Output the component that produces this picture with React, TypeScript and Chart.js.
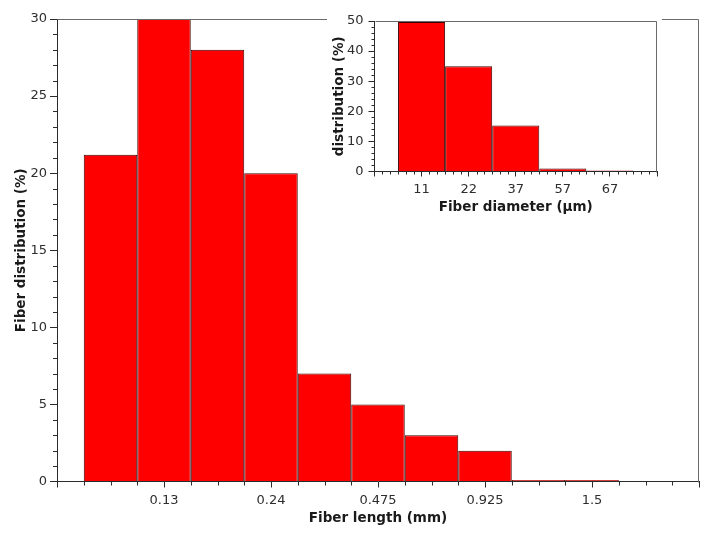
import React, { useEffect, useRef } from 'react';
import { Chart, registerables } from 'chart.js';

Chart.register(...registerables);

// ---- Main chart data (fiber length histogram) ----
const lengthPositions = [1, 2, 3, 4, 5, 6, 7, 8, 9, 10];
const lengthLabels = ['', '0.13', '', '0.24', '', '0.475', '', '0.925', '', '1.5'];
const lengthValues = [21.2, 30, 28, 20, 7, 5, 3, 2, 0.1, 0.1];
const lengthAxisMin = 0;
const lengthAxisMax = 12;
const lengthTickStep = 0.5;
const lengthDistMax = 30;

// ---- Inset chart data (fiber diameter histogram) ----
const diameterPositions = [1, 2, 3, 4, 5];
const diameterLabels = ['11', '22', '37', '57', '67'];
const diameterValues = [49.7, 35, 15.3, 1.0, 0.3];
const diameterAxisMin = 0;
const diameterAxisMax = 6;
const diameterTickStep = 1 / 6;
const diameterDistMax = 50;

const FONT = 'DejaVu Sans';
const AXIS = '#2b2b2b';
const FRAME = '#6a6a6a';
const TICK_TEXT = '#2e2e2e';
const TITLE_TEXT = '#1a1a1a';
const BAR_FILL = '#ff0000';
const BAR_EDGE = '#3c0000';

const near = (a: number, b: number) => Math.abs(a - b) < 1e-6;

function stepValues(min: number, max: number, step: number) {
  const n = Math.round((max - min) / step);
  return Array.from({ length: n + 1 }, (_, i) => min + i * step);
}

type AxisDecor = { id: string; minorLength: number; isMajor: (v: number) => boolean };

function makeDecorPlugin(axes: AxisDecor[]) {
  return {
    id: 'decor',
    afterDraw(chart: any) {
      const ctx = chart.ctx;
      const area = chart.chartArea;
      ctx.save();
      ctx.lineWidth = 1;
      // frame (top + right edges of the plot box)
      ctx.strokeStyle = FRAME;
      const l = Math.round(area.left) + 0.5;
      const r = Math.round(area.right) - 0.5;
      const t = Math.round(area.top) + 0.5;
      const b = Math.round(area.bottom) + 0.5;
      ctx.beginPath();
      ctx.moveTo(l, t);
      ctx.lineTo(r, t);
      ctx.lineTo(r, b);
      ctx.stroke();
      // minor tick marks
      ctx.strokeStyle = AXIS;
      for (const ax of axes) {
        const scale = chart.scales[ax.id];
        if (!scale) continue;
        ctx.beginPath();
        for (const tick of scale.ticks) {
          if (ax.isMajor(tick.value)) continue;
          const p = Math.round(scale.getPixelForValue(tick.value)) + 0.5;
          if (scale.isHorizontal()) {
            ctx.moveTo(p, scale.top);
            ctx.lineTo(p, scale.top + ax.minorLength);
          } else {
            ctx.moveTo(scale.right, p);
            ctx.lineTo(scale.right - ax.minorLength, p);
          }
        }
        ctx.stroke();
      }
      ctx.restore();
    },
  };
}

function axisOptions(opts: {
  min: number;
  max: number;
  step: number;
  isMajor: (v: number) => boolean;
  label: (v: number) => string;
  majorLength: number;
  padding: number;
  title: string;
  titlePadding: any;
  titleSize: number;
  fit: (s: any) => void;
}) {
  return {
    type: 'linear',
    min: opts.min,
    max: opts.max,
    offset: false,
    afterBuildTicks: (scale: any) => {
      scale.ticks = stepValues(opts.min, opts.max, opts.step).map((v) => ({ value: v }));
    },
    afterFit: opts.fit,
    grid: {
      display: true,
      offset: false,
      drawOnChartArea: false,
      drawTicks: true,
      tickLength: opts.majorLength,
      tickWidth: 1,
      tickColor: (c: any) => (c.tick && opts.isMajor(c.tick.value) ? AXIS : 'rgba(0,0,0,0)'),
    },
    border: { display: true, color: AXIS, width: 1 },
    ticks: {
      autoSkip: false,
      maxRotation: 0,
      minRotation: 0,
      padding: opts.padding,
      color: TICK_TEXT,
      font: { family: FONT, size: 13 },
      callback: (v: any) => opts.label(Number(v)),
    },
    title: {
      display: true,
      text: opts.title,
      color: TITLE_TEXT,
      font: { family: FONT, size: opts.titleSize, weight: 'bold' },
      padding: opts.titlePadding,
    },
  };
}

function MainChart() {
  const ref = useRef<HTMLCanvasElement | null>(null);
  useEffect(() => {
    if (!ref.current) return;
    const xMajor = (v: number) => near(v / 2, Math.round(v / 2));
    const yMajor = (v: number) => near(v / 5, Math.round(v / 5));
    const chart = new Chart(ref.current, {
      type: 'bar',
      data: {
        datasets: [
          {
            data: lengthPositions.map((p, i) => ({ x: p, y: lengthValues[i] })) as any,
            backgroundColor: BAR_FILL,
            borderColor: BAR_EDGE,
            borderWidth: 1,
            barPercentage: 1,
            // bar width = one bin; the ruler uses the minor-tick spacing
            categoryPercentage: 1 / lengthTickStep,
          },
        ],
      },
      options: {
        animation: false,
        responsive: false,
        events: [],
        layout: { padding: { left: 0, right: 18, top: 19, bottom: 0 } },
        plugins: { legend: { display: false }, tooltip: { enabled: false } },
        scales: {
          x: axisOptions({
            min: lengthAxisMin,
            max: lengthAxisMax,
            step: lengthTickStep,
            isMajor: xMajor,
            label: (v) => {
              const i = lengthPositions.findIndex((p) => near(p, v));
              return i >= 0 ? lengthLabels[i] : '';
            },
            majorLength: 6,
            padding: 5,
            title: 'Fiber length (mm)',
            titlePadding: { top: 0, bottom: 12.5 },
            titleSize: 13.5,
            fit: (s: any) => {
              s.height = 57.5;
            },
          }) as any,
          y: axisOptions({
            min: 0,
            max: lengthDistMax,
            step: 1,
            isMajor: yMajor,
            label: (v) => (yMajor(v) ? String(v) : ''),
            majorLength: 7,
            padding: 3,
            title: 'Fiber distribution (%)',
            titlePadding: { top: 13, bottom: 0 },
            titleSize: 13.5,
            fit: (s: any) => {
              s.width = 57;
            },
          }) as any,
        },
      },
      plugins: [
        makeDecorPlugin([
          { id: 'x', minorLength: 4, isMajor: xMajor },
          { id: 'y', minorLength: 4, isMajor: yMajor },
        ]),
      ],
    });
    return () => chart.destroy();
  }, []);
  return (
    <canvas
      ref={ref}
      width={717}
      height={539}
      style={{ position: 'absolute', left: 0, top: 0, width: 717, height: 539 }}
    />
  );
}

function InsetChart() {
  const ref = useRef<HTMLCanvasElement | null>(null);
  useEffect(() => {
    if (!ref.current) return;
    const xMajor = (v: number) => near(v, Math.round(v));
    const yMajor = (v: number) => near(v / 10, Math.round(v / 10));
    const chart = new Chart(ref.current, {
      type: 'bar',
      data: {
        datasets: [
          {
            data: diameterPositions.map((p, i) => ({ x: p, y: diameterValues[i] })) as any,
            backgroundColor: BAR_FILL,
            borderColor: BAR_EDGE,
            borderWidth: 1,
            barPercentage: 1,
            categoryPercentage: 1 / diameterTickStep,
          },
        ],
      },
      options: {
        animation: false,
        responsive: false,
        events: [],
        layout: { padding: { left: 0, right: 2, top: 21, bottom: 0 } },
        plugins: { legend: { display: false }, tooltip: { enabled: false } },
        scales: {
          x: axisOptions({
            min: diameterAxisMin,
            max: diameterAxisMax,
            step: diameterTickStep,
            isMajor: xMajor,
            label: (v) => {
              const i = diameterPositions.findIndex((p) => near(p, v));
              return i >= 0 ? diameterLabels[i] : '';
            },
            majorLength: 5,
            padding: 5,
            title: 'Fiber diameter (µm)',
            titlePadding: { top: 0, bottom: 6.5 },
            titleSize: 13.5,
            fit: (s: any) => {
              s.height = 50.5;
            },
          }) as any,
          y: axisOptions({
            min: 0,
            max: diameterDistMax,
            step: 2,
            isMajor: yMajor,
            label: (v) => (yMajor(v) ? String(v) : ''),
            majorLength: 6,
            padding: 5,
            title: 'distribution (%)',
            titlePadding: { top: 4.5, bottom: 0 },
            titleSize: 13.5,
            fit: (s: any) => {
              s.width = 47.5;
            },
          }) as any,
        },
      },
      plugins: [
        makeDecorPlugin([
          { id: 'x', minorLength: 3, isMajor: xMajor },
          { id: 'y', minorLength: 3, isMajor: yMajor },
        ]),
      ],
    });
    return () => chart.destroy();
  }, []);
  return (
    <canvas
      ref={ref}
      width={335}
      height={222}
      style={{
        position: 'absolute',
        left: 327,
        top: 0,
        width: 335,
        height: 222,
        background: '#ffffff',
      }}
    />
  );
}

export default function App() {
  return (
    <div
      style={{
        position: 'absolute',
        left: 0,
        top: 0,
        width: 717,
        height: 539,
        background: '#ffffff',
        overflow: 'hidden',
      }}
    >
      <MainChart />
      <InsetChart />
    </div>
  );
}
